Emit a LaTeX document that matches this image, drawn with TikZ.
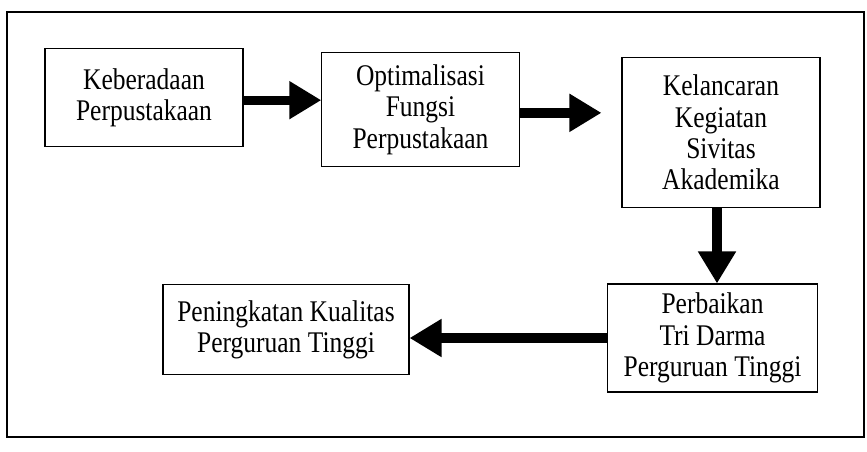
\documentclass[tikz,border=0pt]{standalone}
\usepackage{fontspec}
\setmainfont{Liberation Serif}[FakeStretch=0.85]
\usetikzlibrary{arrows.meta}

\begin{document}
\begin{tikzpicture}[x=0.75pt,y=-0.75pt,
    box/.style={draw,line width=0.8pt,align=center,inner sep=0pt,
      font=\fontsize{22.5}{23.5}\selectfont},
    bigarrow/.style={line width=7pt,-{Triangle[length=24pt,width=27pt]}}]
                \useasboundingbox (0,0) rectangle (867,451);
                \draw[line width=0.9pt] (7,12) rectangle (864,437);

                \node (keberadaan) at (144,97.5) [box,minimum width=148.5pt,minimum height=74pt] {Keberadaan\\Perpustakaan};
                \node (optimalisasi) at (420.5,109.5) [box,minimum width=148pt,minimum height=86pt] {Optimalisasi\\Fungsi\\Perpustakaan};
                \node (kelancaran) at (721,132.5) [box,minimum width=148.5pt,minimum height=113pt] {Kelancaran\\Kegiatan\\Sivitas\\Akademika};
                \node (perbaikan) at (712.5,338) [box,minimum width=157pt,minimum height=81pt] {Perbaikan\\Tri Darma\\Perguruan Tinggi};
                \node (peningkatan) at (286,329.5) [box,minimum width=184.5pt,minimum height=67pt] {Peningkatan Kualitas\\Perguruan Tinggi};

                \draw[bigarrow] ([yshift=-2pt]keberadaan.east) -- ([yshift=-2pt]optimalisasi.west |- keberadaan.east);
                \draw[bigarrow,shorten >=15pt] ([yshift=-2.5pt]optimalisasi.east) -- ([yshift=-2.5pt]kelancaran.west |- optimalisasi.east);
                \draw[bigarrow] ([xshift=-3pt]kelancaran.south) -- ([xshift=-3pt]kelancaran.south |- perbaikan.north);
                \draw[bigarrow] (perbaikan.west) -- (peningkatan.east |- perbaikan.west);

            \end{tikzpicture}
\end{document}
